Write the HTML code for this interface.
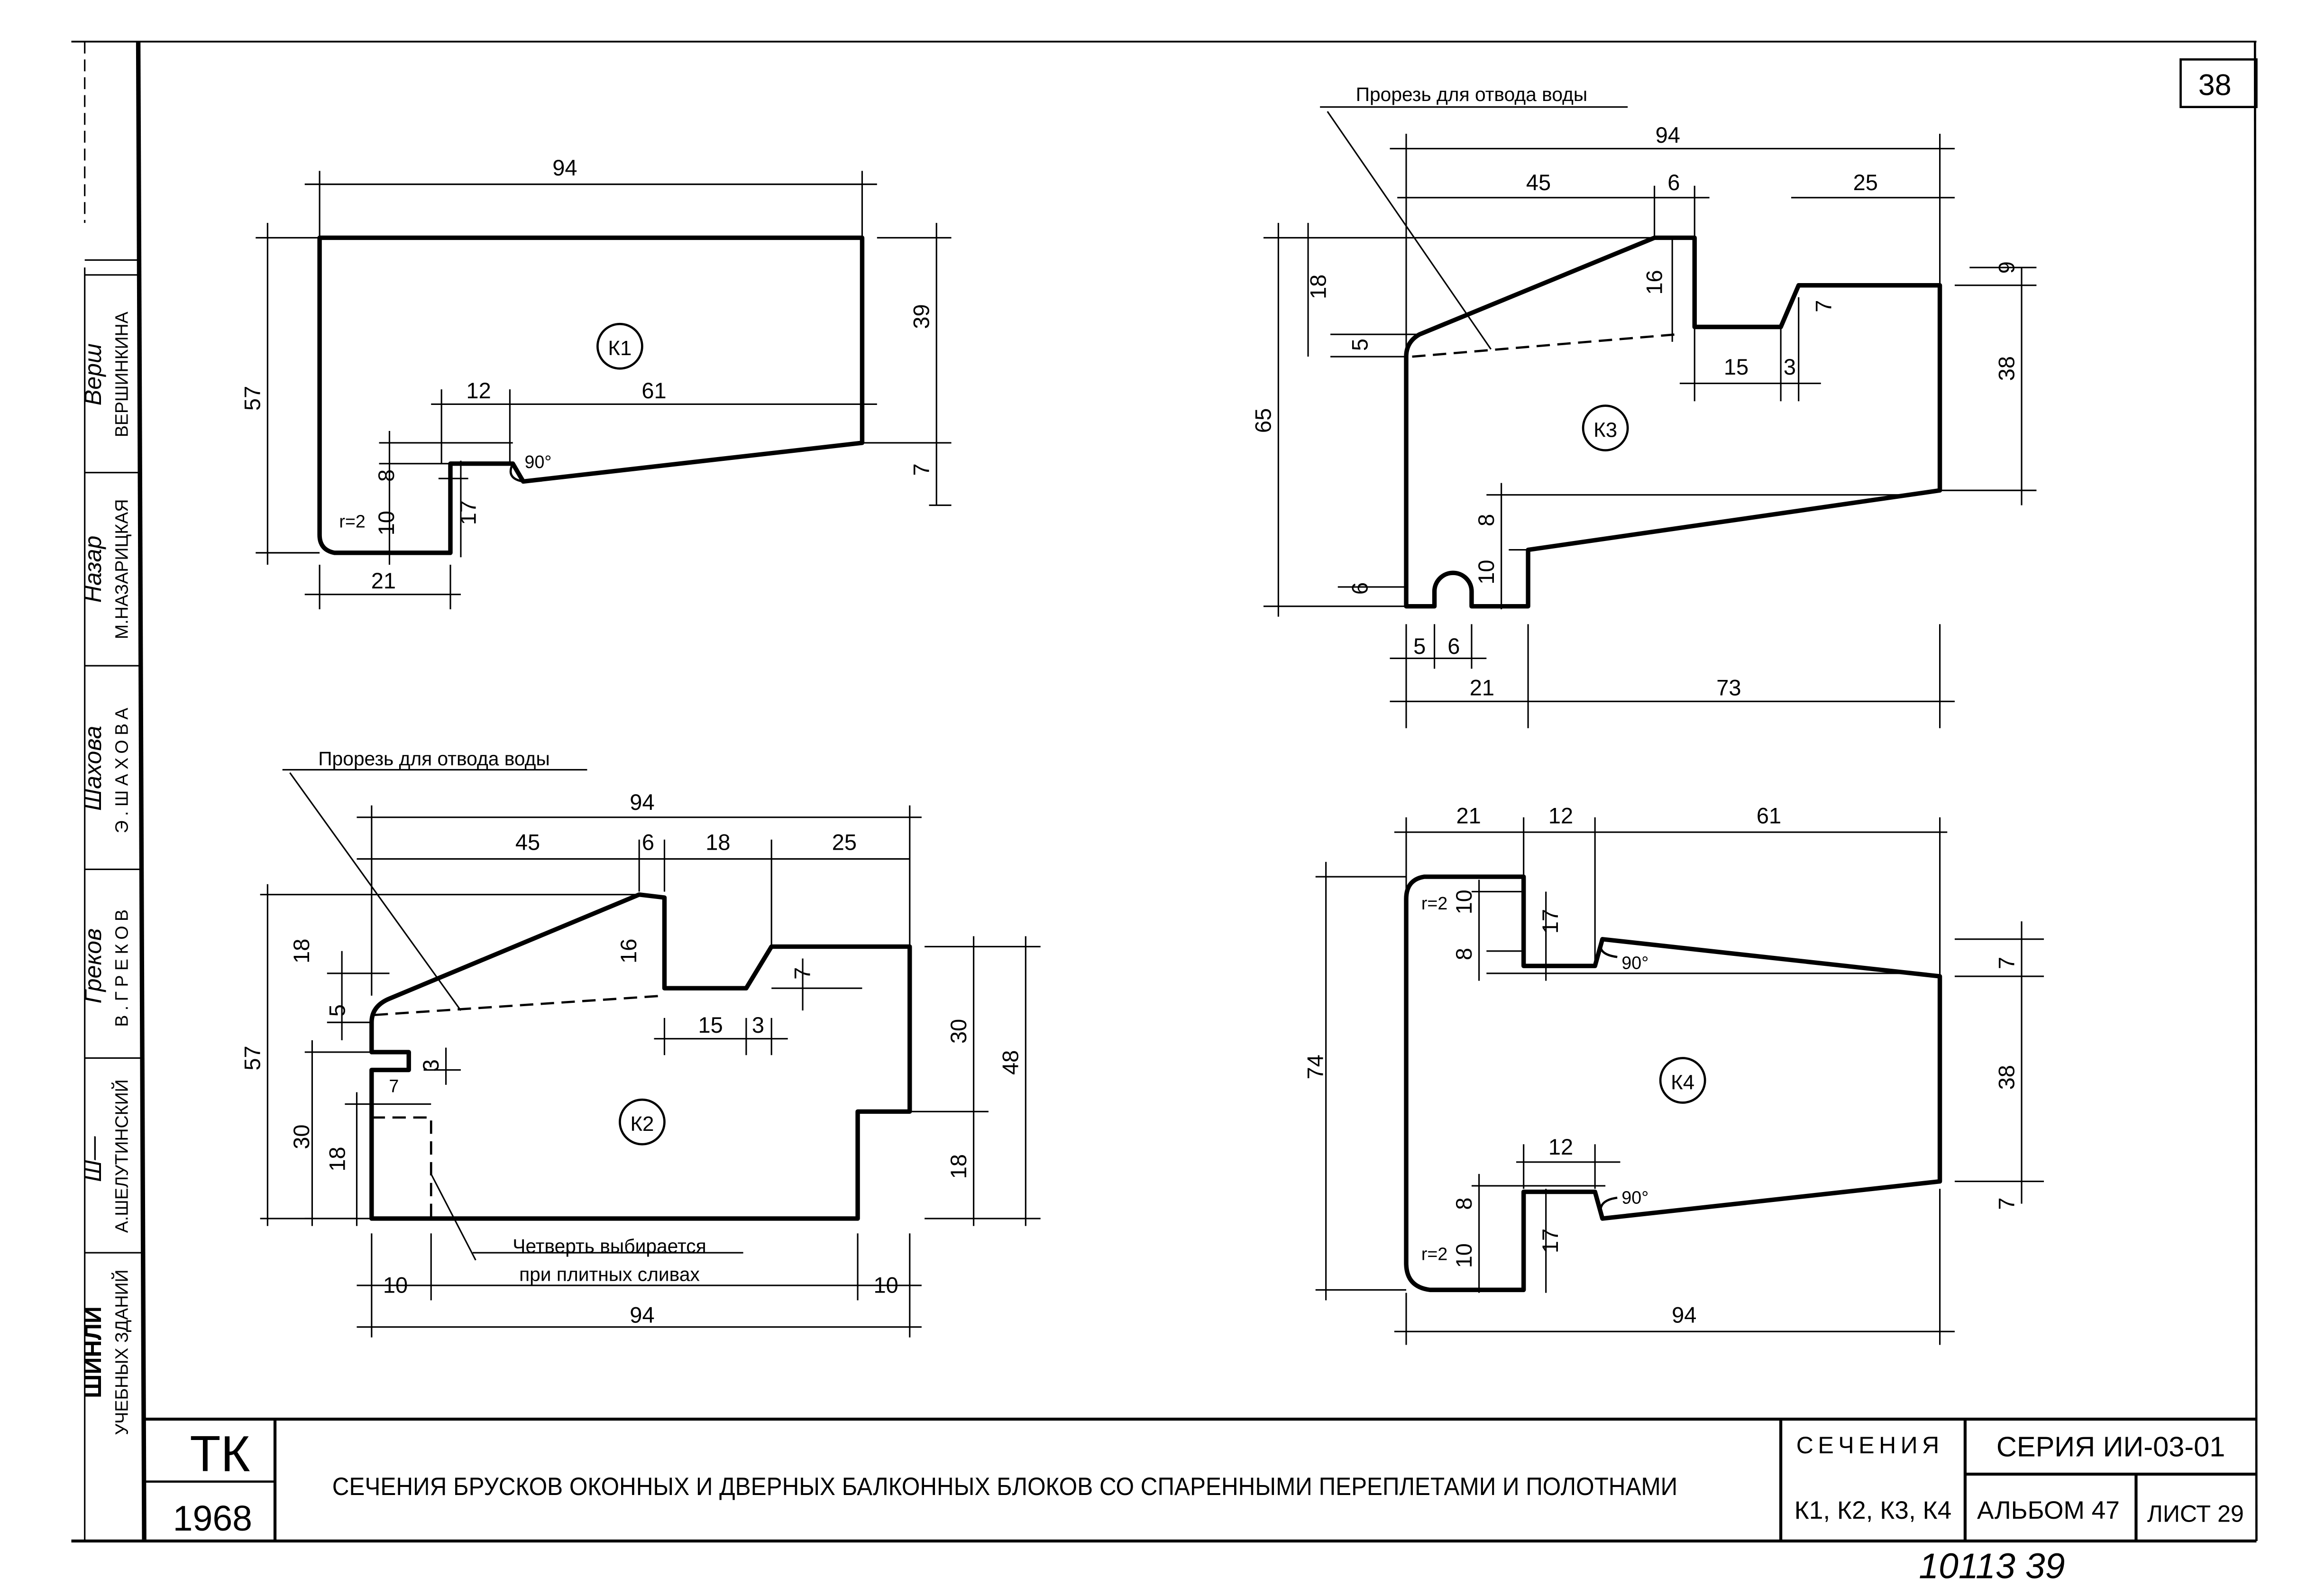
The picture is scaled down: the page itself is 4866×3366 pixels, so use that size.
<!DOCTYPE html>
<html><head><meta charset="utf-8"><style>
html,body{margin:0;padding:0;background:#fff;}
svg{display:block;}
text{font-family:"Liberation Sans",sans-serif;fill:#000;}
</style></head><body>
<svg width="4866" height="3366" viewBox="0 0 1552 1074" preserveAspectRatio="none" xmlns="http://www.w3.org/2000/svg">
<g fill="none" stroke="#000">
<line x1="48" y1="28" x2="1518" y2="28" stroke-width="1.2"/>
<line x1="93" y1="28" x2="97" y2="1036" stroke-width="3"/>
<line x1="1517" y1="28" x2="1518" y2="1037" stroke-width="1.5"/>
<line x1="48" y1="1037" x2="1518" y2="1037" stroke-width="2"/>
<line x1="57" y1="28" x2="57" y2="150" stroke-width="1" stroke-dasharray="8,4"/>
<line x1="57" y1="1037" x2="57" y2="180" stroke-width="1"/>
<line x1="57" y1="185" x2="95" y2="185" stroke-width="1"/>
<line x1="57" y1="175" x2="95" y2="175" stroke-width="1"/>
<line x1="57" y1="318" x2="95" y2="318" stroke-width="1"/>
<line x1="57" y1="448" x2="95" y2="448" stroke-width="1"/>
<line x1="57" y1="585" x2="96" y2="585" stroke-width="1"/>
<line x1="57" y1="712" x2="96" y2="712" stroke-width="1"/>
<line x1="57" y1="843" x2="96" y2="843" stroke-width="1"/>
<line x1="96" y1="955" x2="1518" y2="955" stroke-width="2"/>
<line x1="185" y1="955" x2="185" y2="1037" stroke-width="2"/>
<line x1="96" y1="997" x2="185" y2="997" stroke-width="1.5"/>
<line x1="1198" y1="955" x2="1198" y2="1037" stroke-width="2"/>
<line x1="1322" y1="955" x2="1322" y2="1037" stroke-width="2"/>
<line x1="1322" y1="992" x2="1518" y2="992" stroke-width="2"/>
<line x1="1437" y1="992" x2="1437" y2="1037" stroke-width="2"/>
<rect x="1467" y="40" width="51" height="32" stroke-width="1.5"/>
</g>

<g fill="none" stroke="#000" stroke-width="3" stroke-linejoin="round">
<path d="M215,160 L580,160 L580,298 L352,324 L345,312 L303,312 L303,372 L225,372 Q215,370 215,360 Z"/>
<path d="M955,225 L1113,160 L1140,160 L1140,220 L1198,220 L1210,192 L1305,192 L1305,330 L1028,370 L1028,408 L990,408 L990,398 A12,12 0 0 0 965,398 L965,408 L946,408 L946,240 Q946,230 955,225 Z"/>
<path d="M262,672 L430,602 L447,604 L447,665 L502,665 L519,637 L612,637 L612,748 L577,748 L577,820 L250,820 L250,720 L275,720 L275,708 L250,708 L250,688 Q250,677 262,672 Z"/>
<path d="M958,590 L1025,590 L1025,650 L1073,650 L1078,632 L1305,657 L1305,795 L1078,820 L1073,802 L1025,802 L1025,868 L962,868 Q946,866 946,850 L946,605 Q946,592 958,590 Z"/>
</g>
<g fill="none" stroke="#000" stroke-width="1.5" stroke-dasharray="9,5">
<path d="M950,240 L1128,225"/>
<path d="M252,683 L447,670"/>
<path d="M250,752 L290,752 L290,820"/>
</g>
<g fill="none" stroke="#000" stroke-width="1.5">
<circle cx="417" cy="233" r="15"/><circle cx="1080" cy="288" r="15"/>
<circle cx="432" cy="755" r="15"/><circle cx="1132" cy="727" r="15"/>
<path d="M345,312 Q340,322 352,324"/><path d="M1078,632 Q1073,642 1088,644"/><path d="M1078,820 Q1073,808 1088,806"/>
</g>
<g stroke="#000" stroke-width="1" fill="none">
<path d="M205,124 H590 M215,115 V160 M580,115 V160"/>
<path d="M172,160 H215 M172,372 H215 M180,150 V380"/>
<path d="M590,160 H640 M580,298 H640 M630,150 V340 M625,340 H640"/>
<path d="M290,272 H590 M297,262 V312 M343,262 V312"/>
<path d="M255,298 H345 M255,312 H303 M262,290 V380"/>
<path d="M295,322 H315 M310,310 V375"/>
<path d="M205,400 H310 M215,380 V410 M303,380 V410"/>
<path d="M935,100 H1315 M946,90 V240 M1305,90 V192"/>
<path d="M940,133 H1150 M1113,125 V160 M1140,125 V160 M1205,133 H1315"/>
<path d="M850,160 H1113 M850,408 H946 M860,150 V415"/>
<path d="M895,225 H955 M895,240 H946 M880,150 V240"/>
<path d="M1125,160 V230"/>
<path d="M1130,258 H1225 M1140,220 V270 M1198,220 V270 M1210,200 V270"/>
<path d="M1315,192 H1370 M1305,330 H1370 M1360,180 V340 M1325,180 H1370"/>
<path d="M1000,333 H1280 M1010,325 V410 M1015,370 H1028"/>
<path d="M935,443 H1000 M946,420 V490 M965,420 V450 M990,420 V450"/>
<path d="M935,472 H1315 M1028,420 V490 M1305,420 V490"/>
<path d="M893,75 L1003,235 M888,72 H1095"/>
<path d="M900,395 H946"/>
<path d="M240,550 H620 M250,542 V670 M612,542 V637"/>
<path d="M240,578 H612 M430,565 V600 M447,565 V600 M519,565 V637"/>
<path d="M175,602 H430 M175,820 H250 M180,595 V825"/>
<path d="M220,655 H262 M220,688 H250 M230,640 V700"/>
<path d="M205,708 H250 M205,820 H240 M210,700 V825"/>
<path d="M232,743 H290 M240,735 V825"/>
<path d="M440,699 H530 M447,685 V710 M502,685 V710 M519,685 V710"/>
<path d="M519,665 H580 M540,645 V680"/>
<path d="M285,720 H310 M300,705 V730"/>
<path d="M622,637 H700 M612,748 H665 M622,820 H700 M690,630 V825 M655,630 V825"/>
<path d="M240,865 H620 M250,830 V900 M290,830 V875 M577,830 V875 M612,830 V900"/>
<path d="M240,893 H620"/>
<path d="M195,520 L310,680 M190,518 H395"/>
<path d="M290,790 L320,848 M318,843 H500"/>
<path d="M938,560 H1310 M946,550 V600 M1025,550 V590 M1073,550 V650 M1305,550 V657"/>
<path d="M885,590 H946 M885,868 H946 M892,580 V875"/>
<path d="M990,600 H1025 M995,592 V660 M1000,640 H1025"/>
<path d="M1040,600 V660"/>
<path d="M1000,655 H1280 M1315,632 H1375 M1315,657 H1375 M1360,620 V810 M1315,795 H1375"/>
<path d="M1020,782 H1090 M1025,770 V800 M1073,770 V800"/>
<path d="M990,798 H1080 M995,790 V870"/>
<path d="M1040,800 V870"/>
<path d="M938,896 H1315 M946,870 V905 M1305,800 V905"/>
</g>
<g font-size="15" text-anchor="middle">
<text x="380" y="118">94</text>
<text x="417" y="239" font-size="14">К1</text>
<text x="322" y="268">12</text><text x="440" y="268">61</text>
<text x="362" y="315" font-size="12">90°</text>
<text x="258" y="396">21</text>
<text x="237" y="355" font-size="12">r=2</text>
<text transform="translate(175,268) rotate(-90)">57</text>
<text transform="translate(625,213) rotate(-90)">39</text>
<text transform="translate(625,316) rotate(-90)">7</text>
<text transform="translate(265,320) rotate(-90)">8</text>
<text transform="translate(265,352) rotate(-90)">10</text>
<text transform="translate(320,345) rotate(-90)">17</text>
<text x="990" y="68" font-size="13">Прорезь для отвода воды</text>
<text x="1122" y="96">94</text>
<text x="1035" y="128">45</text><text x="1126" y="128">6</text><text x="1255" y="128">25</text>
<text x="1080" y="294" font-size="14">К3</text>
<text x="1168" y="252">15</text><text x="1204" y="252">3</text>
<text x="955" y="440">5</text><text x="978" y="440">6</text>
<text x="997" y="468">21</text><text x="1163" y="468">73</text>
<text transform="translate(855,283) rotate(-90)">65</text>
<text transform="translate(892,193) rotate(-90)">18</text>
<text transform="translate(920,232) rotate(-90)">5</text>
<text transform="translate(1118,190) rotate(-90)">16</text>
<text transform="translate(1232,206) rotate(-90)">7</text>
<text transform="translate(1355,180) rotate(-90)">9</text>
<text transform="translate(1355,248) rotate(-90)">38</text>
<text transform="translate(1005,350) rotate(-90)">8</text>
<text transform="translate(1005,385) rotate(-90)">10</text>
<text transform="translate(920,396) rotate(-90)">6</text>
<text x="292" y="515" font-size="13">Прорезь для отвода воды</text>
<text x="432" y="545">94</text>
<text x="355" y="572">45</text><text x="436" y="572">6</text><text x="483" y="572">18</text><text x="568" y="572">25</text>
<text x="432" y="761" font-size="14">К2</text>
<text x="478" y="695">15</text><text x="510" y="695">3</text>
<text x="266" y="870">10</text><text x="596" y="870">10</text>
<text x="432" y="890">94</text>
<text x="410" y="843" font-size="13">Четверть выбирается</text>
<text x="410" y="862" font-size="13">при плитных сливах</text>
<text x="265" y="735" font-size="12">7</text>
<text transform="translate(175,712) rotate(-90)">57</text>
<text transform="translate(208,640) rotate(-90)">18</text>
<text transform="translate(232,680) rotate(-90)">5</text>
<text transform="translate(208,765) rotate(-90)">30</text>
<text transform="translate(232,780) rotate(-90)">18</text>
<text transform="translate(295,717) rotate(-90)">3</text>
<text transform="translate(428,640) rotate(-90)">16</text>
<text transform="translate(545,655) rotate(-90)">7</text>
<text transform="translate(650,694) rotate(-90)">30</text>
<text transform="translate(685,715) rotate(-90)">48</text>
<text transform="translate(650,785) rotate(-90)">18</text>
<text x="988" y="554">21</text><text x="1050" y="554">12</text><text x="1190" y="554">61</text>
<text x="1132" y="733" font-size="14">К4</text>
<text x="1050" y="777">12</text>
<text x="1100" y="652" font-size="12">90°</text><text x="1100" y="810" font-size="12">90°</text>
<text x="1133" y="890">94</text>
<text x="965" y="612" font-size="12">r=2</text><text x="965" y="848" font-size="12">r=2</text>
<text transform="translate(890,718) rotate(-90)">74</text>
<text transform="translate(990,607) rotate(-90)">10</text>
<text transform="translate(990,642) rotate(-90)">8</text>
<text transform="translate(1048,620) rotate(-90)">17</text>
<text transform="translate(1355,648) rotate(-90)">7</text>
<text transform="translate(1355,725) rotate(-90)">38</text>
<text transform="translate(1355,810) rotate(-90)">7</text>
<text transform="translate(990,810) rotate(-90)">8</text>
<text transform="translate(990,845) rotate(-90)">10</text>
<text transform="translate(1048,835) rotate(-90)">17</text>
<text x="1490" y="64" font-size="20">38</text>
<text x="148" y="990" font-size="34">ТК</text>
<text x="143" y="1030" font-size="24">1968</text>
<text x="676" y="1006" font-size="17" textLength="905" lengthAdjust="spacingAndGlyphs">СЕЧЕНИЯ БРУСКОВ ОКОННЫХ И ДВЕРНЫХ БАЛКОННЫХ БЛОКОВ СО СПАРЕННЫМИ ПЕРЕПЛЕТАМИ И ПОЛОТНАМИ</text>
<text x="1258" y="978" font-size="16" letter-spacing="3">СЕЧЕНИЯ</text>
<text x="1260" y="1022" font-size="17">К1, К2, К3, К4</text>
<text x="1420" y="980" font-size="19">СЕРИЯ  ИИ-03-01</text>
<text x="1378" y="1022" font-size="17">АЛЬБОМ 47</text>
<text x="1477" y="1024" font-size="16">ЛИСТ 29</text>
<text x="1340" y="1062" font-size="24" font-style="italic">10113  39</text>
<text transform="translate(86,910) rotate(-90)" font-size="12">УЧЕБНЫХ ЗДАНИЙ</text>
<text transform="translate(86,778) rotate(-90)" font-size="12">А.ШЕЛУТИНСКИЙ</text>
<text transform="translate(86,650) rotate(-90)" font-size="12" letter-spacing="3">В.ГРЕКОВ</text>
<text transform="translate(86,517) rotate(-90)" font-size="12" letter-spacing="3">Э.ШАХОВА</text>
<text transform="translate(86,383) rotate(-90)" font-size="12">М.НАЗАРИЦКАЯ</text>
<text transform="translate(86,252) rotate(-90)" font-size="12">ВЕРШИНКИНА</text>
<text transform="translate(68,780) rotate(-90)" font-size="16" font-style="italic">Ш—</text>
<text transform="translate(68,650) rotate(-90)" font-size="16" font-style="italic">Греков</text>
<text transform="translate(68,517) rotate(-90)" font-size="16" font-style="italic">Шахова</text>
<text transform="translate(68,383) rotate(-90)" font-size="16" font-style="italic">Назар</text>
<text transform="translate(68,252) rotate(-90)" font-size="16" font-style="italic">Верш</text>
<text transform="translate(68,910) rotate(-90)" font-size="16" font-weight="bold">ШИНЛИ</text>
</g>
</svg>
</body></html>
